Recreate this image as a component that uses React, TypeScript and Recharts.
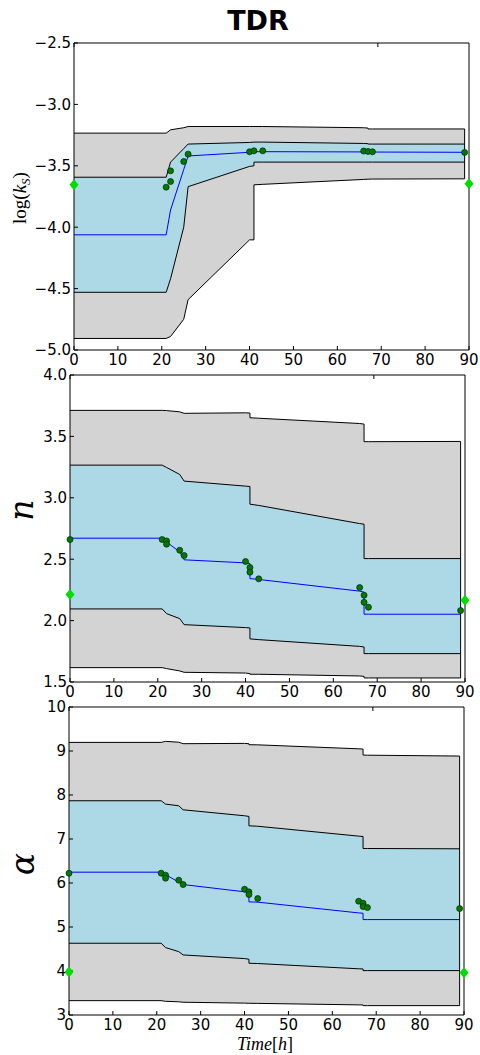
import React from 'react';
import { ComposedChart, Area, Line, Scatter, XAxis, YAxis, ReferenceLine } from 'recharts';

// time points where the model prediction was evaluated (duplicates = jumps)
const time = [0, 21, 22, 25, 26, 40, 41, 41, 43, 66, 67, 67, 68, 89];
const obsTime = [0, 21, 22, 22, 25, 26, 40, 41, 41, 43, 66, 67, 67, 68, 89];
const trueTime = [0, 90];
const timeTicks = [0, 10, 20, 30, 40, 50, 60, 70, 80, 90];

// log(k_S)
const ksOuterHi = [-3.234, -3.234, -3.207, -3.19, -3.18, -3.18, -3.18, -3.18, -3.18, -3.19, -3.193, -3.2, -3.2, -3.2];
const ksInnerHi = [-3.593, -3.593, -3.47, -3.36, -3.323, -3.31, -3.307, -3.307, -3.307, -3.318, -3.32, -3.323, -3.323, -3.323];
const ksMedian = [-4.062, -4.062, -3.86, -3.53, -3.42, -3.39, -3.385, -3.385, -3.385, -3.387, -3.388, -3.388, -3.388, -3.39];
const ksInnerLo = [-4.53, -4.53, -4.42, -4.0, -3.67, -3.505, -3.5, -3.47, -3.47, -3.47, -3.47, -3.47, -3.47, -3.47];
const ksOuterLo = [-4.906, -4.906, -4.89, -4.75, -4.59, -4.103, -4.103, -3.655, -3.651, -3.611, -3.609, -3.609, -3.608, -3.606];
const ksObsTime = [21, 22, 22, 25, 26, 40, 41, 43, 66, 67, 68, 89];
const ksObs = [-3.674, -3.628, -3.541, -3.465, -3.405, -3.386, -3.378, -3.378, -3.38, -3.383, -3.386, -3.391];
const ksTrue = [-3.655, -3.647];
const ksTicks = [-5, -4.5, -4, -3.5, -3, -2.5];

// n
const nOuterHi = [3.712, 3.712, 3.71, 3.7, 3.688, 3.692, 3.69, 3.652, 3.648, 3.605, 3.6, 3.457, 3.457, 3.459];
const nInnerHi = [3.266, 3.266, 3.247, 3.19, 3.136, 3.095, 3.092, 2.948, 2.938, 2.79, 2.785, 2.505, 2.505, 2.505];
const nMedian = [2.671, 2.671, 2.64, 2.56, 2.495, 2.47, 2.465, 2.342, 2.335, 2.24, 2.232, 2.052, 2.052, 2.052];
const nInnerLo = [2.095, 2.095, 2.057, 2.016, 1.967, 1.943, 1.94, 1.851, 1.845, 1.79, 1.785, 1.731, 1.731, 1.731];
const nOuterLo = [1.617, 1.617, 1.609, 1.59, 1.579, 1.573, 1.568, 1.563, 1.563, 1.549, 1.546, 1.533, 1.533, 1.533];
const nObs = [2.66, 2.66, 2.649, 2.622, 2.573, 2.53, 2.481, 2.432, 2.394, 2.34, 2.269, 2.207, 2.149, 2.109, 2.082];
const nTrue = [2.212, 2.166];
const nTicks = [1.5, 2.0, 2.5, 3.0, 3.5, 4.0];

// alpha
const aOuterHi = [9.196, 9.196, 9.219, 9.2, 9.166, 9.173, 9.165, 9.143, 9.14, 9.05, 9.044, 8.908, 8.905, 8.885];
const aInnerHi = [7.869, 7.869, 7.793, 7.755, 7.664, 7.528, 7.513, 7.3, 7.29, 7.065, 7.057, 6.784, 6.784, 6.777];
const aMedian = [6.246, 6.246, 6.19, 6.02, 5.965, 5.8, 5.79, 5.571, 5.565, 5.32, 5.313, 5.169, 5.169, 5.169];
const aInnerLo = [4.631, 4.631, 4.532, 4.44, 4.365, 4.282, 4.267, 4.176, 4.17, 4.05, 4.047, 4.009, 4.009, 4.009];
const aOuterLo = [3.326, 3.326, 3.311, 3.3, 3.29, 3.27, 3.266, 3.266, 3.264, 3.23, 3.228, 3.213, 3.213, 3.213];
const aObs = [6.223, 6.223, 6.178, 6.109, 6.064, 5.965, 5.859, 5.799, 5.738, 5.647, 5.586, 5.541, 5.465, 5.442, 5.419];
const aTrue = [3.979, 3.963];
const aTicks = [3, 4, 5, 6, 7, 8, 9, 10];

const tickFont = { fontSize: 15, fontFamily: 'DejaVu Sans', fill: '#000' };
const minus = (s: string) => s.replace('-', '\u2212');

const Dot = (p: any) => (
  <circle cx={p.cx} cy={p.cy} r={3} fill="#007a00" stroke="#002800" strokeWidth={0.7} />
);

const Diamond = (p: any) => (
  <polygon
    points={`${p.cx},${p.cy - 5.5} ${p.cx + 4.5},${p.cy} ${p.cx},${p.cy + 5.5} ${p.cx - 4.5},${p.cy}`}
    fill="#00dd00"
  />
);

const noLabel = () => <g />;

interface PanelProps {
  top: number;
  height: number;
  margin: { top: number; right: number; bottom: number; left: number };
  outerLo: number[];
  outerHi: number[];
  innerLo: number[];
  innerHi: number[];
  median: number[];
  obsT: number[];
  obs: number[];
  truth: number[];
  domain: [number, number];
  ticks: number[];
  fmt: (v: number) => string;
}

const Panel = (props: PanelProps) => {
  const { top, height, margin, outerLo, outerHi, innerLo, innerHi, median, obsT, obs, truth, domain, ticks, fmt } = props;
  const rows = time.map((t, i) => ({
    t,
    outer: [outerLo[i], outerHi[i]],
    inner: [innerLo[i], innerHi[i]],
    median: median[i]
  }));
  const obsRows = obsT.map((t, i) => ({ t, v: obs[i] }));
  const trueRows = trueTime.map((t, i) => ({ t, v: truth[i] }));
  const last = time.length - 1;
  const stroke = { stroke: '#000', strokeWidth: 1 };

  return (
    <div style={{ position: 'absolute', left: 0, top, width: 480, height }}>
      <ComposedChart width={480} height={height} data={rows} margin={margin}>
        <XAxis
          dataKey="t"
          type="number"
          domain={[0, 90]}
          ticks={timeTicks}
          axisLine={stroke}
          tickLine={stroke}
          tickSize={-4}
          tickMargin={8}
          tick={tickFont}
          height={30}
        />
        <XAxis xAxisId="top" orientation="top" type="number" domain={[0, 90]} ticks={timeTicks}
          mirror axisLine={stroke} tickLine={stroke} tickSize={4} tick={noLabel} />
        <YAxis
          type="number"
          domain={domain}
          ticks={ticks}
          axisLine={stroke}
          tickLine={stroke}
          tickSize={-4}
          tickMargin={7}
          tick={tickFont}
          tickFormatter={fmt}
          width={60}
        />
        <YAxis yAxisId="r" orientation="right" type="number" domain={domain} ticks={ticks}
          mirror axisLine={stroke} tickLine={stroke} tickSize={4} tick={noLabel} width={1} />
        <Area dataKey="outer" type="linear" fill="#d3d3d3" fillOpacity={1} stroke="#000" strokeWidth={1} isAnimationActive={false} />
        <Area dataKey="inner" type="linear" fill="#add8e6" fillOpacity={1} stroke="#000" strokeWidth={1} isAnimationActive={false} />
        <ReferenceLine segment={[{ x: time[last], y: outerLo[last] }, { x: time[last], y: outerHi[last] }]} stroke="#000" strokeWidth={1} />
        <Line dataKey="median" type="linear" stroke="#0000ff" strokeWidth={1} dot={false} isAnimationActive={false} />
        <Scatter data={obsRows} dataKey="v" shape={Dot} isAnimationActive={false} />
        <Scatter data={trueRows} dataKey="v" shape={Diamond} isAnimationActive={false} />
      </ComposedChart>
    </div>
  );
};

const serif = 'Liberation Serif';

export default function App() {
  return (
    <div style={{ position: 'absolute', left: 0, top: 0, width: 480, height: 1055, background: '#fff' }}>
      <svg width={480} height={1055} style={{ position: 'absolute', left: 0, top: 0 }}>
        <text x={258} y={30} textAnchor="middle" fontFamily="DejaVu Sans" fontWeight="bold" fontSize={27}>TDR</text>
        <text transform="translate(26,198) rotate(-90)" textAnchor="middle" fontFamily={serif} fontSize={19}>
          log(<tspan fontStyle="italic">k</tspan><tspan fontStyle="italic" fontSize={13} dy={4}>S</tspan><tspan dy={-4}>)</tspan>
        </text>
        <text transform="translate(33,510) rotate(-90)" textAnchor="middle" fontFamily="DejaVu Serif" fontStyle="italic" fontSize={33}>n</text>
        <text transform="translate(34,864) rotate(-90)" textAnchor="middle" fontFamily="DejaVu Serif" fontStyle="italic" fontSize={33}>α</text>
        <text x={265} y={1050} textAnchor="middle" fontFamily={serif} fontStyle="italic" fontSize={18}>
          Time<tspan fontStyle="normal">[</tspan>h<tspan fontStyle="normal">]</tspan>
        </text>
      </svg>
      <Panel
        top={0} height={380} margin={{ top: 43, right: 11, bottom: 0, left: 14 }}
        outerLo={ksOuterLo} outerHi={ksOuterHi} innerLo={ksInnerLo} innerHi={ksInnerHi} median={ksMedian}
        obsT={ksObsTime} obs={ksObs} truth={ksTrue} domain={[-5, -2.5]} ticks={ksTicks}
        fmt={(v) => minus(v.toFixed(1))}
      />
      <Panel
        top={360} height={360} margin={{ top: 15, right: 15, bottom: 8, left: 10 }}
        outerLo={nOuterLo} outerHi={nOuterHi} innerLo={nInnerLo} innerHi={nInnerHi} median={nMedian}
        obsT={obsTime} obs={nObs} truth={nTrue} domain={[1.5, 4]} ticks={nTicks}
        fmt={(v) => v.toFixed(1)}
      />
      <Panel
        top={690} height={365} margin={{ top: 17, right: 16, bottom: 10, left: 9 }}
        outerLo={aOuterLo} outerHi={aOuterHi} innerLo={aInnerLo} innerHi={aInnerHi} median={aMedian}
        obsT={obsTime} obs={aObs} truth={aTrue} domain={[3, 10]} ticks={aTicks}
        fmt={(v) => String(v)}
      />
    </div>
  );
}
